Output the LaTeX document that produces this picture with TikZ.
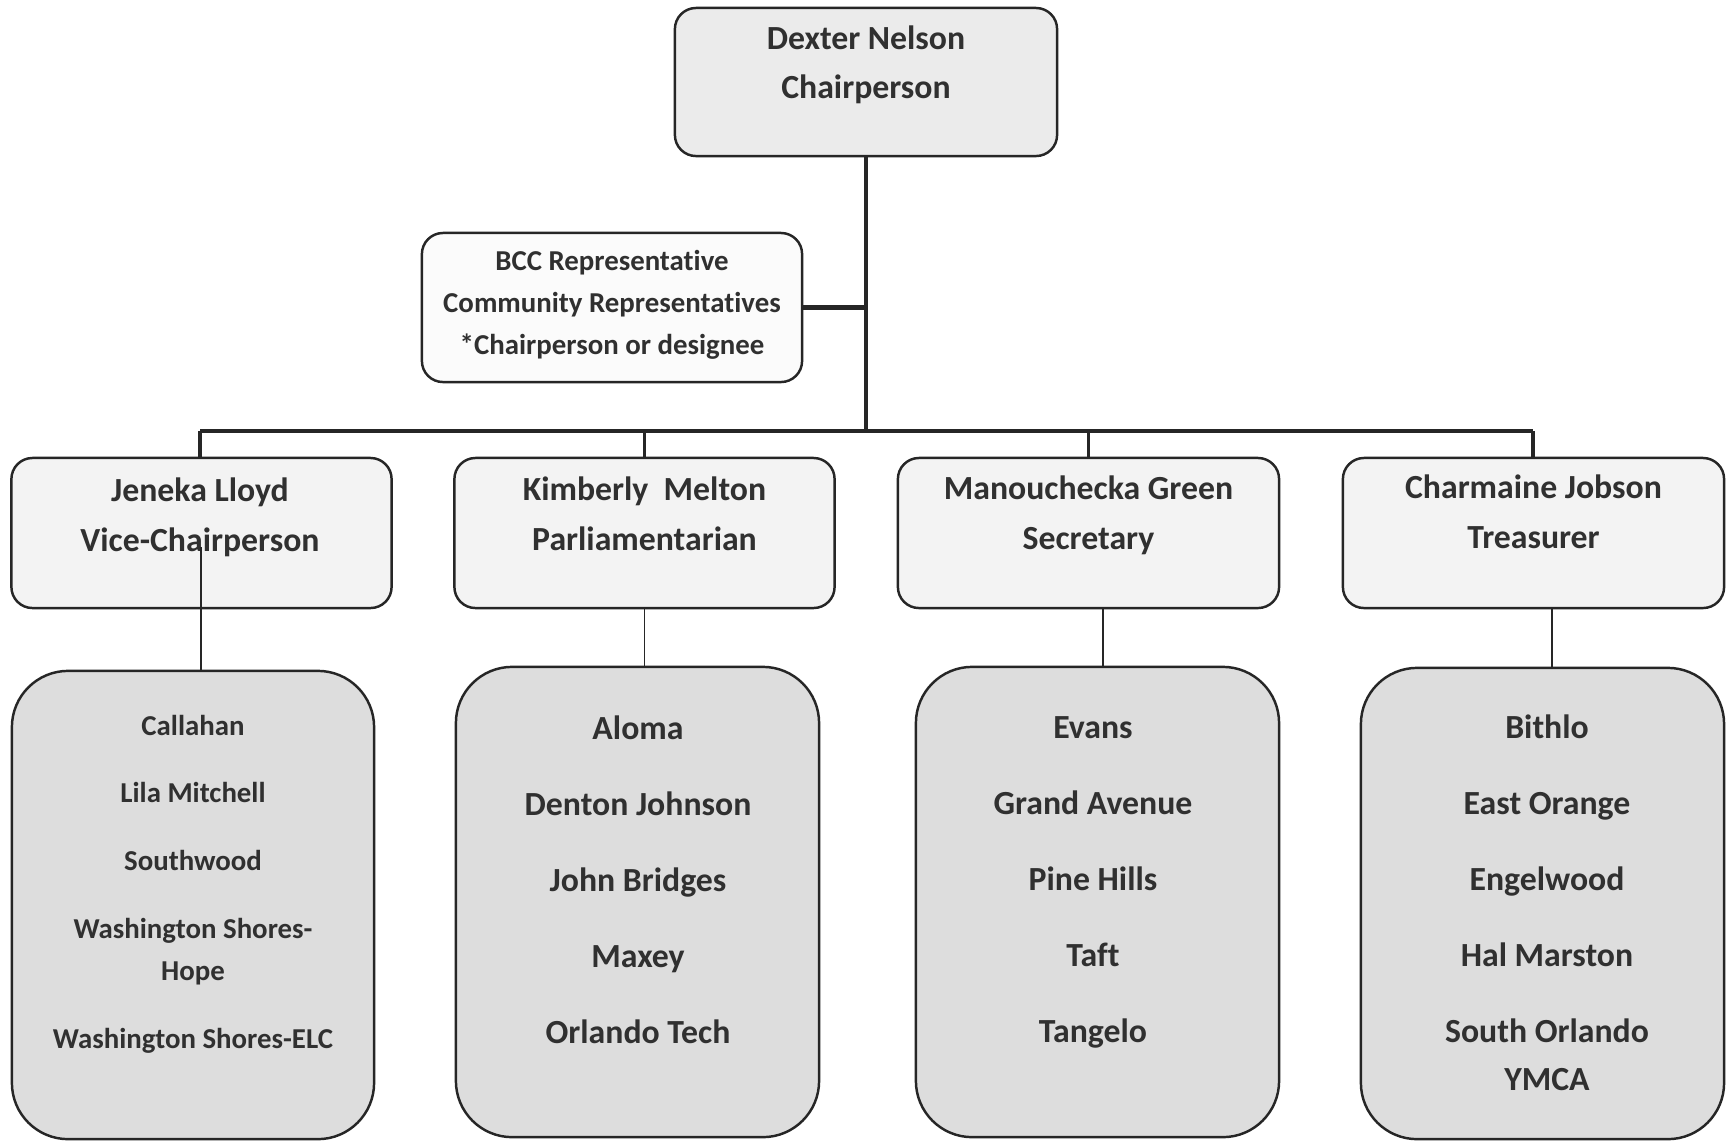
\documentclass[tikz,border=0pt]{standalone}
\usepackage{fontspec}
\setmainfont{Carlito}[Ligatures=NoCommon]
\usetikzlibrary{calc}
\definecolor{ink}{HTML}{262626}
\definecolor{txt}{HTML}{303030}
\definecolor{topfill}{HTML}{EBEBEB}
\definecolor{midfill}{HTML}{F3F3F3}
\definecolor{lowfill}{HTML}{DDDDDD}
\definecolor{bccfill}{HTML}{FBFBFB}
\tikzset{
  box/.style={draw=ink, line width=0.7pt, rounded corners=6pt, inner sep=0pt, outer sep=0pt},
  topbox/.style={box, fill=topfill, minimum width=3.82cm, minimum height=1.48cm},
  bccbox/.style={box, fill=bccfill, minimum width=3.80cm, minimum height=1.49cm},
  midbox/.style={box, fill=midfill, minimum width=3.80cm, minimum height=1.50cm},
  lowbox/.style={box, fill=lowfill, rounded corners=16pt, minimum width=3.63cm, minimum height=4.70cm},
  bigtxt/.style={text=txt, align=center, inner sep=0pt, font=\bfseries\fontsize{9.6}{13.8}\selectfont},
  midtxt/.style={text=txt, align=center, inner sep=0pt, font=\bfseries\fontsize{9.6}{14.1}\selectfont},
  smalltxt/.style={text=txt, align=center, inner sep=0pt, font=\bfseries\fontsize{8.2}{11.9}\selectfont},
  trunk/.style={draw=ink, line width=1.1pt},
  barline/.style={draw=ink, line width=1.4pt},
  dropline/.style={draw=ink, line width=1.1pt},
  bccline/.style={draw=ink, line width=1.3pt},
  thinline/.style={draw=ink, line width=0.5pt}
}
\begin{document}
\begin{tikzpicture}[x=0.01cm, y=-0.01cm]
\useasboundingbox (0,0) rectangle (1726,1141);
% top
\node[topbox] (chair) at (866,82) {};
\node[bigtxt] (chairT) at (866,65) {Dexter Nelson\\Chairperson};
% bcc
\node[bccbox] (bcc) at (612,307.5) {};
\node[smalltxt] (bccT) at (612,305) {BCC Representative\\Community Representatives\\*Chairperson or designee};
% level 2
\node[midbox] (l2a) at (201.5,533) {};
\node[midbox] (l2b) at (644.5,533) {};
\node[midbox, minimum width=3.81cm] (l2c) at (1088.5,533) {};
\node[midbox, minimum width=3.81cm] (l2d) at (1533.5,533) {};
\node[midtxt] (l2aT) at (200,517) {Jeneka Lloyd\\Vice-Chairperson};
\node[midtxt] (l2bT) at (644.5,513.5) {Kimberly\ \ Melton\\Parliamentarian};
\node[midtxt] (l2cT) at (1088.5,515.5) {Manouchecka Green\\Secretary};
\node[midtxt] (l2dT) at (1533.5,511.5) {Charmaine Jobson\\Treasurer};
% level 3
\node[lowbox, minimum width=3.62cm, minimum height=4.68cm] (l3a) at (193,905) {};
\node[lowbox] (l3b) at (637.5,902) {};
\node[lowbox] (l3c) at (1097.5,902) {};
\node[lowbox, minimum height=4.71cm] (l3d) at (1542.5,903.5) {};
\node[smalltxt] (l3aT) at (193,884) {Callahan\\[7.4pt]Lila Mitchell\\[7.4pt]Southwood\\[7.4pt]Washington Shores-\\Hope\\[7.4pt]Washington Shores-ELC};
\node[bigtxt] (l3bT) at (638,880) {Aloma\\[7.8pt]Denton Johnson\\[7.8pt]John Bridges\\[7.8pt]Maxey\\[7.8pt]Orlando Tech};
\node[bigtxt] (l3cT) at (1093,882) {Evans\\[7.8pt]Grand Avenue\\[7.8pt]Pine Hills\\[7.8pt]Taft\\[7.8pt]Tangelo};
\node[bigtxt] (l3dT) at (1547,903) {Bithlo\\[7.8pt]East Orange\\[7.8pt]Engelwood\\[7.8pt]Hal Marston\\[7.8pt]South Orlando\\YMCA};
% connectors
\coordinate (barL) at (200,431);
\coordinate (barR) at (1533,431);
\draw[trunk] (chair.south) -- (chair.south |- barL);
\draw[bccline] (bcc.east) -- (bcc.east -| chair.south);
\draw[barline] (barL) -- (barR);
\draw[dropline] (barL) -- (barL |- l2a.north);
\draw[dropline] (l2b.north |- barL) -- (l2b.north);
\draw[dropline] (l2c.north |- barL) -- (l2c.north);
\draw[dropline] (barR) -- (barR |- l2d.north);
\coordinate (ca) at (201,547);
\coordinate (cc) at ($(l2c.south)+(14.5,0)$);
\coordinate (cd) at ($(l2d.south)+(18.5,0)$);
\draw[thinline] (ca) -- (ca |- l3a.north);
\draw[thinline] (l2b.south) -- (l2b.south |- l3b.north);
\draw[thinline] (cc) -- (cc |- l3c.north);
\draw[thinline] (cd) -- (cd |- l3d.north);
\end{tikzpicture}
\end{document}
